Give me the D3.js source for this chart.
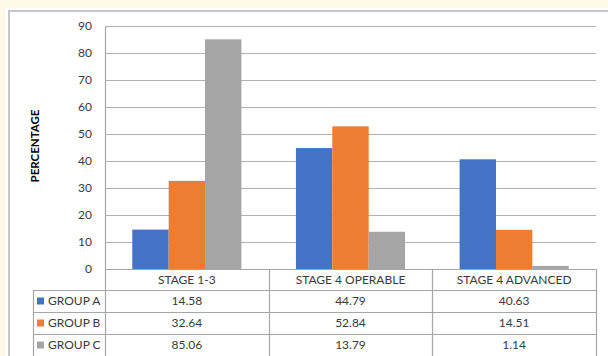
<!DOCTYPE html>
<html><head><meta charset="utf-8">
<script src="https://cdn.jsdelivr.net/npm/d3@7"></script>
<style>
html,body{margin:0;padding:0;background:#fffae8;}
svg{display:block;font-family:Lato,"Open Sans",sans-serif;}
</style></head>
<body>
<svg id="c" width="608" height="356"></svg>
<script>
const categories = ["STAGE 1-3", "STAGE 4 OPERABLE", "STAGE 4 ADVANCED"];
const groups = ["GROUP A", "GROUP B", "GROUP C"];
const groupA = [14.58, 44.79, 40.63];
const groupB = [32.64, 52.84, 14.51];
const groupC = [85.06, 13.79, 1.14];
const valueLabels = [["14.58","44.79","40.63"],["32.64","52.84","14.51"],["85.06","13.79","1.14"]];
const colors = ["#4472C4", "#ED7D31", "#A5A5A5"];
const yTicks = [0,10,20,30,40,50,60,70,80,90];
const series = [groupA, groupB, groupC];

const svg = d3.select("#c");
const textColor = "#3a3a3a";
const gridColor = "#b0b0b0";
const tableColor = "#a6a6a6";
const fs = "12px";

// chart area background + border
svg.append("rect").attr("x",5).attr("y",8).attr("width",610).attr("height",360).attr("fill","#fff");
svg.append("rect").attr("x",9).attr("y",11).attr("width",620).attr("height",370)
  .attr("fill","none").attr("stroke","#c6c6c6").attr("stroke-width",2);

const plotLeft = 105, plotRight = 596, plotTop = 26, zero = 269;
const rowsY = [269, 290, 312, 334, 356];
const legendLeft = 33;

const x0 = d3.scaleBand().domain(categories).range([plotLeft, plotRight]).paddingInner(0).paddingOuter(0);
const bw = x0.bandwidth()/(3+1.5);
const x1 = d3.scaleBand().domain(groups).range([bw*0.75, bw*0.75 + 3*bw]).padding(0);
const y = d3.scaleLinear().domain([0,90]).range([zero, plotTop]);

// gridlines
svg.append("g").selectAll("line").data(yTicks.filter(d=>d>0)).join("line")
  .attr("x1",plotLeft).attr("x2",plotRight)
  .attr("y1",d=>Math.round(y(d))+0.5).attr("y2",d=>Math.round(y(d))+0.5)
  .attr("stroke",gridColor).attr("stroke-width",1.2);

// y axis labels
const ya = svg.append("g").attr("transform",`translate(${plotLeft-13},0)`)
  .call(d3.axisLeft(y).tickValues(yTicks).tickSize(0).tickPadding(0));
ya.select(".domain").remove();
ya.selectAll("text").attr("fill",textColor).style("font-size",fs).style("font-family","Lato,'Open Sans',sans-serif");

// bars
const cat = svg.append("g").selectAll("g").data(categories).join("g")
  .attr("transform",d=>`translate(${x0(d)},0)`);
cat.selectAll("rect").data((c,i)=>groups.map((g,j)=>({g, v:series[j][i], j}))).join("rect")
  .attr("x",d=>x1(d.g)).attr("width",x1.bandwidth())
  .attr("y",d=>y(d.v)).attr("height",d=>zero-y(d.v))
  .attr("fill",d=>colors[d.j]);

// y axis title
svg.append("text").attr("transform",`translate(39,146) rotate(-90)`)
  .attr("text-anchor","middle").attr("fill","#000").style("font-size","11.5px").style("font-weight","bold")
  .text("PERCENTAGE");

// table lines
const tl = svg.append("g").attr("stroke",tableColor).attr("stroke-width",1.2);
tl.append("line").attr("x1",plotLeft).attr("x2",plotRight).attr("y1",zero+0.5).attr("y2",zero+0.5);
rowsY.slice(1).forEach(yy=>{
  tl.append("line").attr("x1",legendLeft).attr("x2",plotRight).attr("y1",yy+0.5).attr("y2",yy+0.5);
});
tl.append("line").attr("x1",plotLeft+0.5).attr("x2",plotLeft+0.5).attr("y1",plotTop).attr("y2",356);
categories.forEach(c=>{
  const xx = Math.round(x0(c)+x0.bandwidth())+0.5;
  tl.append("line").attr("x1",xx).attr("x2",xx).attr("y1",zero).attr("y2",356);
});
tl.append("line").attr("x1",legendLeft+0.5).attr("x2",legendLeft+0.5).attr("y1",rowsY[1]).attr("y2",356);

// category labels
svg.append("g").selectAll("text").data(categories).join("text")
  .attr("x",d=>x0(d)+x0.bandwidth()/2).attr("y",(rowsY[0]+rowsY[1])/2+4)
  .attr("text-anchor","middle").attr("fill",textColor).style("font-size",fs).text(d=>d);

// rows
groups.forEach((g,j)=>{
  const yc = (rowsY[j+1]+rowsY[j+2])/2;
  svg.append("rect").attr("x",37).attr("y",yc-3.5).attr("width",7).attr("height",7).attr("fill",colors[j]);
  svg.append("text").attr("x",48).attr("y",yc+4).attr("fill",textColor).style("font-size",fs).text(g);
  categories.forEach((c,i)=>{
    svg.append("text").attr("x",x0(c)+x0.bandwidth()/2).attr("y",yc+4)
      .attr("text-anchor","middle").attr("fill",textColor).style("font-size",fs).text(valueLabels[j][i]);
  });
});
</script>
</body></html>
